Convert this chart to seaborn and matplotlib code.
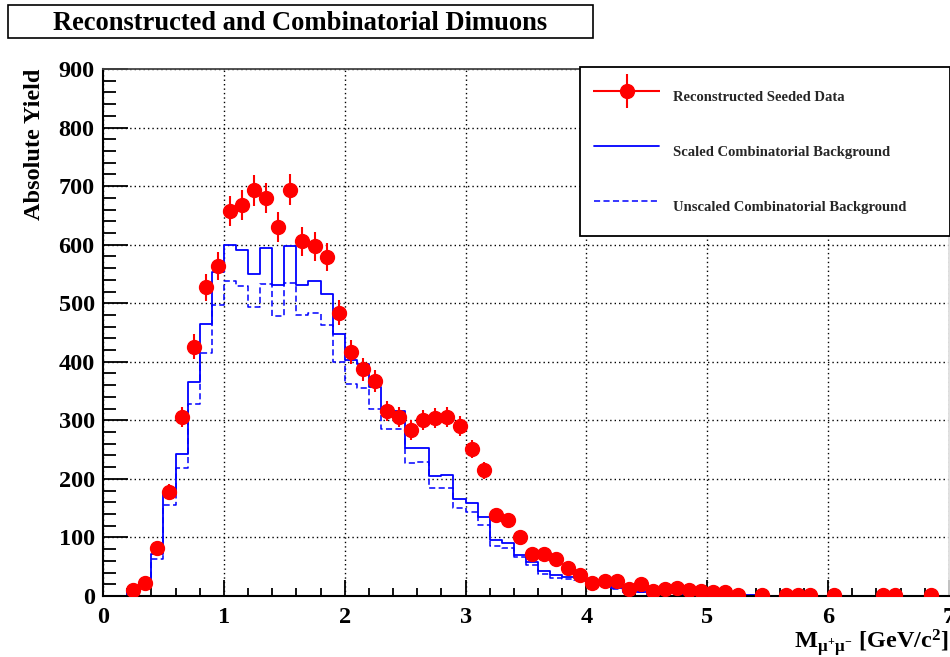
import numpy as np
import pandas as pd
import matplotlib
matplotlib.use('Agg')
import matplotlib.pyplot as plt
import seaborn as sns
from matplotlib.lines import Line2D
from matplotlib.patches import Rectangle
from matplotlib.ticker import MultipleLocator
from matplotlib.legend_handler import HandlerErrorbar
from matplotlib.container import ErrorbarContainer

# --- binning (0.1 GeV/c^2 bins from 0 to 7) ---
bin_edges = [round(0.1 * i, 1) for i in range(71)]
bin_centers = [round(0.1 * i + 0.05, 2) for i in range(70)]

# scaled combinatorial background, per bin
scaled_bkg = [0, 0, 5, 19, 71, 174, 243, 365, 464, 553,
              599, 591, 550, 594, 531, 597, 531, 538, 515, 447,
              403, 397, 357, 318, 316, 253, 253, 205, 206, 166,
              158, 135, 96, 91, 70, 58, 43, 36, 33, 30,
              24, 21, 14, 7, 7, 3, 9, 6, 1, 1,
              1, 1, 0, 1, 0, 0, 1, 0, 0, 0,
              0, 0, 0, 0, 0, 0, 0, 0, 0, 0]

# unscaled combinatorial background, per bin
unscaled_bkg = [0, 0, 4, 17, 64, 155, 219, 328, 415, 497,
                538, 529, 494, 533, 478, 535, 480, 484, 463, 400,
                362, 356, 320, 286, 285, 227, 228, 184, 184, 151,
                144, 121, 85, 82, 66, 53, 38, 31, 29, 28,
                22, 19, 12, 6, 6, 2, 7, 5, 1, 1,
                1, 1, 0, 1, 0, 0, 1, 0, 0, 0,
                0, 0, 0, 0, 0, 0, 0, 0, 0, 0]

# reconstructed seeded data (non-empty bins)
data_mass = [0.25, 0.35, 0.45, 0.55, 0.65, 0.75, 0.85, 0.95,
             1.05, 1.15, 1.25, 1.35, 1.45, 1.55, 1.65, 1.75, 1.85, 1.95,
             2.05, 2.15, 2.25, 2.35, 2.45, 2.55, 2.65, 2.75, 2.85, 2.95,
             3.05, 3.15, 3.25, 3.35, 3.45, 3.55, 3.65, 3.75, 3.85, 3.95,
             4.05, 4.15, 4.25, 4.35, 4.45, 4.55, 4.65, 4.75, 4.85, 4.95,
             5.05, 5.15, 5.25, 5.45, 5.65, 5.75, 5.85, 6.05, 6.45, 6.55, 6.85]
data_yield = [10, 22, 82, 178, 306, 426, 527, 563,
              658, 668, 693, 680, 630, 694, 606, 597, 579, 484,
              416, 387, 367, 316, 306, 283, 300, 304, 306, 291,
              251, 215, 139, 130, 100, 72, 72, 64, 47, 36,
              22, 25, 25, 12, 21, 9, 12, 14, 10, 9,
              6, 6, 2, 2, 1, 1, 1, 1, 1, 1, 1]
data_err = np.sqrt(data_yield)

hist_df = pd.DataFrame({'mass': bin_centers, 'scaled': scaled_bkg, 'unscaled': unscaled_bkg})

sns.set_theme(style='ticks')
plt.rcParams['font.family'] = ['Liberation Serif', 'DejaVu Serif']
plt.rcParams['font.weight'] = 'bold'
plt.rcParams['mathtext.fontset'] = 'custom'
plt.rcParams['mathtext.rm'] = 'Liberation Serif:bold'
plt.rcParams['mathtext.it'] = 'Liberation Serif:bold'
plt.rcParams['mathtext.bf'] = 'Liberation Serif:bold'

fig = plt.figure(figsize=(9.5, 6.57), dpi=100)
ax = fig.add_axes([103 / 950, 1 - 596 / 657, 846 / 950, 527 / 657])

sns.histplot(data=hist_df, x='mass', weights='unscaled', bins=bin_edges, element='step',
             fill=False, color='#0000ff', linewidth=1.1, linestyle=(0, (4, 2.2)), ax=ax)
sns.histplot(data=hist_df, x='mass', weights='scaled', bins=bin_edges, element='step',
             fill=False, color='#0000ff', linewidth=1.3, ax=ax)
eb = ax.errorbar(data_mass, data_yield, yerr=data_err, xerr=0.05, fmt='o',
                 color='#ff0000', ecolor='#ff0000', markersize=10, elinewidth=1.5,
                 capsize=0, zorder=5)

ax.set_xlim(0, 7)
ax.set_ylim(0, 900)
ax.xaxis.set_major_locator(MultipleLocator(1))
ax.xaxis.set_minor_locator(MultipleLocator(0.2))
ax.yaxis.set_major_locator(MultipleLocator(100))
ax.yaxis.set_minor_locator(MultipleLocator(20))
ax.tick_params(axis='both', which='both', direction='in', colors='black',
               labelsize=17.5, width=1.3)
ax.tick_params(axis='y', which='major', length=18, pad=6)
ax.tick_params(axis='y', which='minor', length=9)
ax.tick_params(axis='x', which='major', length=11.5, pad=8)
ax.tick_params(axis='x', which='minor', length=5.7)
for lab in ax.get_xticklabels() + ax.get_yticklabels():
    lab.set_fontweight('bold')

ax.grid(True, which='major', color='black', linestyle=(0, (1, 2.2)), linewidth=1.0)
ax.set_axisbelow(True)
for side in ['left', 'bottom']:
    ax.spines[side].set_linewidth(1.5)
    ax.spines[side].set_color('black')
ax.spines['top'].set_color('#444444')
ax.spines['top'].set_linewidth(1.3)
ax.spines['right'].set_color('#dddddd')

ax.set_ylabel('Absolute Yield', fontsize=17.5, fontweight='bold', loc='top', color='black')
ax.yaxis.set_label_coords(-0.068, 1.0)
ax.set_xlabel(r'M$_{\mu^{+}\mu^{-}}$ [GeV/c$^{2}$]', fontsize=17.5, fontweight='bold',
              loc='right', color='black')
ax.xaxis.set_label_coords(1.0, -0.058)

# legend
h_scaled = Line2D([], [], color='#0000ff', linewidth=1.3)
h_unscaled = Line2D([], [], color='#0000ff', linewidth=1.1, linestyle=(0, (4, 2.2)))
leg = ax.legend([eb, h_scaled, h_unscaled],
                ['Reconstructed Seeded Data', 'Scaled Combinatorial Background',
                 'Unscaled Combinatorial Background'],
                handler_map={ErrorbarContainer: HandlerErrorbar(xerr_size=2.3, yerr_size=1.15)},
                loc='upper left', bbox_to_anchor=(580 / 950, 1 - 233 / 657, 370 / 950, 166 / 657),
                bbox_transform=fig.transFigure, mode='expand', borderaxespad=0,
                prop={'family': 'Liberation Serif', 'weight': 'bold', 'size': 10.5},
                handlelength=4.5, handleheight=3.0, handletextpad=0.9, labelspacing=1.56,
                borderpad=0.95, frameon=True, fancybox=False, framealpha=1, edgecolor='black')
leg.get_frame().set_linewidth(1.3)
leg.set_zorder(10)

# title box
fig.patches.append(Rectangle((8 / 950, 1 - 38 / 657), 585 / 950, 33 / 657,
                             transform=fig.transFigure, facecolor='white',
                             edgecolor='black', linewidth=1.2))
fig.text(300 / 950, 1 - 23 / 657, 'Reconstructed and Combinatorial Dimuons',
         ha='center', va='center', fontsize=19.1, fontweight='bold', color='black')

fig.savefig('out.png', dpi=100)
